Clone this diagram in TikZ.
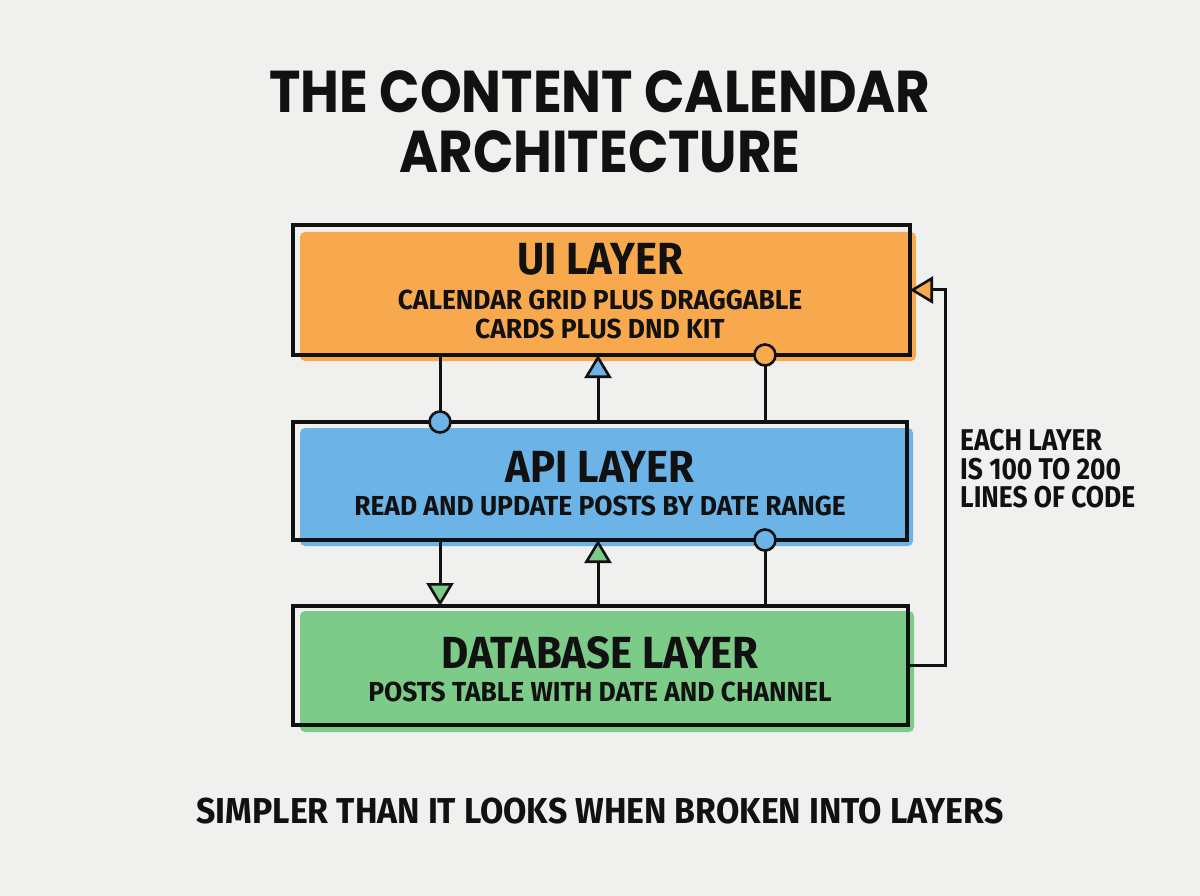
\documentclass[tikz,border=0pt]{standalone}
\usepackage{fontspec}
\usetikzlibrary{arrows.meta}
\newfontfamily\firaH{Fira Sans}[FakeStretch=0.93]
\newfontfamily\firaS{Fira Sans}[FakeStretch=0.96]
\newfontfamily\firaN{Fira Sans}[FakeStretch=0.88]
\newfontfamily\firaB{Fira Sans}[FakeStretch=0.94]
\newfontfamily\popp{Poppins}[FakeStretch=0.9]
\newcommand\hfont{\firaH\bfseries\fontsize{45}{50}\selectfont}
\newcommand\subfont{\firaS\bfseries\fontsize{27.5}{30}\selectfont}
\newcommand\notefont{\firaN\bfseries\fontsize{30}{32}\selectfont}
\newcommand\botfont{\firaB\bfseries\fontsize{36}{40}\selectfont}
\newcommand\ttlfont{\popp\bfseries\fontsize{59}{64}\selectfont}
\definecolor{bgC}{HTML}{F0F0EF}
\definecolor{orangeC}{HTML}{F9A94D}
\definecolor{blueC}{HTML}{6CB4E8}
\definecolor{greenC}{HTML}{7DCB88}
\definecolor{inkC}{HTML}{111111}
\tikzset{
  layerbox/.style={draw=inkC, line width=3.2pt, inner sep=0pt, outer sep=0pt},
  wire/.style={draw=inkC, line width=3pt},
  jdot/.style={circle, draw=inkC, line width=2.6pt, minimum size=21pt, inner sep=0pt},
  txt/.style={anchor=base, inner sep=0pt, text=inkC},
  headtip/.style={-{Triangle[length=23pt,width=27pt,line width=2.6pt,fill=#1]}}
}
\begin{document}
\begin{tikzpicture}[x=1pt,y=-1pt]
\fill[bgC] (0,0) rectangle (1200,896);
\useasboundingbox (0,0) rectangle (1200,896);
% fills
\fill[orangeC, rounded corners=5pt] (300,232) rectangle (916,361);
\fill[blueC, rounded corners=5pt] (300,428) rectangle (913,546);
\fill[greenC, rounded corners=5pt] (300,611) rectangle (914,732);
% boxes
\node[layerbox, minimum width=617pt, minimum height=130pt] (ui) at (601.5,290) {};
\node[layerbox, minimum width=614pt, minimum height=118pt] (api) at (600,481) {};
\node[layerbox, minimum width=615pt, minimum height=119pt] (db) at (600.5,665.5) {};
% title
\node[txt] (t1) at (600,113) {\ttlfont THE CONTENT CALENDAR};
\node[txt] (t2) at (600,173) {\ttlfont ARCHITECTURE};
% box texts
\node[txt] (uih) at (600,275) {\hfont UI LAYER};
\node[txt] (uis1) at (600,309) {\subfont CALENDAR GRID PLUS DRAGGABLE};
\node[txt] (uis2) at (600,338) {\subfont CARDS PLUS DND KIT};
\node[txt] (apih) at (600,482) {\hfont API LAYER};
\node[txt] (apis) at (600,515) {\subfont READ AND UPDATE POSTS BY DATE RANGE};
\node[txt] (dbh) at (600,668) {\hfont DATABASE LAYER};
\node[txt] (dbs) at (600,701) {\subfont POSTS TABLE WITH DATE AND CHANNEL};
% side note
\node[txt, anchor=base west] (n1) at (960,450) {\notefont EACH LAYER};
\node[txt, anchor=base west] (n2) at (960,479) {\notefont IS 100 TO 200};
\node[txt, anchor=base west] (n3) at (960,507) {\notefont LINES OF CODE};
% bottom
\node[txt] (bot) at (600,823) {\botfont SIMPLER THAN IT LOOKS WHEN BROKEN INTO LAYERS};
% connectors UI <-> API
\draw[wire] (440,0 |- ui.south) -- (440,0 |- api.north);
\draw[wire, headtip=blueC] (598,0 |- api.north) -- (598,0 |- ui.south);
\draw[wire] (765,0 |- api.north) -- (765,0 |- ui.south);
\node[jdot, fill=blueC] (d1) at (440,0 |- api.north) {};
\node[jdot, fill=orangeC] (d2) at (765,0 |- ui.south) {};
% connectors API <-> DB
\draw[wire, headtip=greenC] (440,0 |- api.south) -- (440,0 |- db.north);
\draw[wire, headtip=greenC] (598,0 |- db.north) -- (598,0 |- api.south);
\draw[wire] (765,0 |- api.south) -- (765,0 |- db.north);
\node[jdot, fill=blueC] (d3) at (765,0 |- api.south) {};
% loop DB -> UI
\coordinate (lb) at (945,665);
\coordinate (lt) at (945,290);
\draw[wire, headtip=orangeC, line join=miter] (db.east |- lb) -- (lb) -- (lt) -- (ui.east |- lt);
\end{tikzpicture}
\end{document}
